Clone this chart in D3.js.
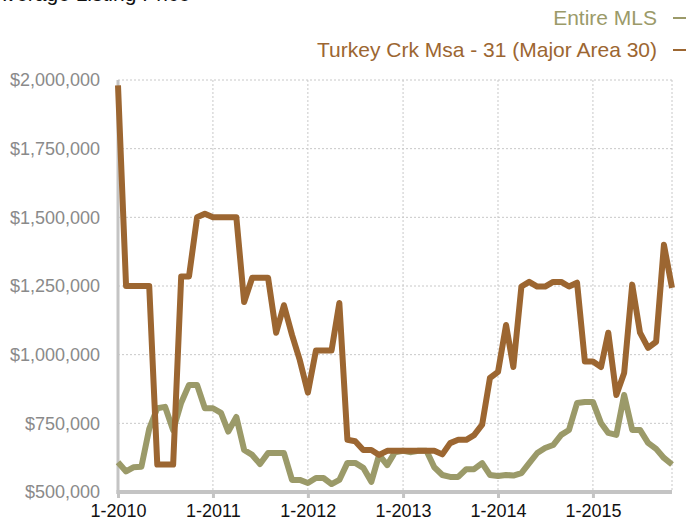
<!DOCTYPE html>
<html>
<head>
<meta charset="utf-8">
<script src="https://cdn.jsdelivr.net/npm/d3@7"></script>
<style>
    body { margin: 0; background: #fff; }
    svg { display: block; font-family: "Liberation Sans", Arial, sans-serif; }
</style>
</head>
<body>
<svg id="chart" width="689" height="525"></svg>
<script>
// monthly values, Jan 2010 .. Nov 2015
const startMonth = new Date(2010, 0, 1);
const seriesNames = ["Entire MLS", "Turkey Crk Msa - 31 (Major Area 30)"];
const seriesColors = ["#9b9a69", "#9c6631"];

const entireMls = [
    608000, 575000, 590000, 592000, 730000, 805000, 810000, 725000, 825000, 890000,
    890000, 805000, 805000, 788000, 720000, 773000, 653000, 635000, 602000, 642000,
    642000, 642000, 544000, 544000, 533000, 551000, 551000, 529000, 544000, 606000,
    606000, 588000, 537000, 635000, 598000, 645000, 650000, 645000, 650000, 650000,
    590000, 562000, 555000, 555000, 583000, 583000, 605000, 562000, 558000, 562000,
    560000, 569000, 605000, 642000, 660000, 671000, 708000, 726000, 824000, 828000,
    828000, 751000, 715000, 708000, 853000, 726000, 726000, 679000, 657000, 624000,
    600000
];

const turkeyCrk = [
    1980000, 1250000, 1250000, 1250000, 1250000, 600000, 600000, 600000, 1285000, 1285000,
    1500000, 1513000, 1500000, 1500000, 1500000, 1500000, 1192000, 1280000, 1280000, 1280000,
    1080000, 1180000, 1072000, 980000, 862000, 1015000, 1015000, 1015000, 1188000, 690000,
    685000, 653000, 653000, 635000, 650000, 650000, 650000, 650000, 650000, 650000,
    650000, 637000, 678000, 690000, 690000, 707000, 745000, 915000, 937000, 1108000,
    955000, 1248000, 1265000, 1248000, 1248000, 1265000, 1265000, 1248000, 1262000, 975000,
    975000, 955000, 1080000, 853000, 933000, 1255000, 1080000, 1025000, 1047000, 1400000,
    1243000
];

const yTicks = [500000, 750000, 1000000, 1250000, 1500000, 1750000, 2000000];

const svg = d3.select("#chart");
const margin = {top: 80, right: 17, bottom: 33, left: 118};
const width = 689 - margin.left - margin.right;
const height = 525 - margin.top - margin.bottom;

const months = d3.timeMonth.range(startMonth, d3.timeMonth.offset(startMonth, entireMls.length));
const xTicks = months.filter(d => d.getMonth() === 0);

const x = d3.scaleTime()
    .domain([months[0], months[months.length - 1]])
    .range([margin.left, margin.left + width]);

const y = d3.scaleLinear()
    .domain([500000, 2000000])
    .range([margin.top + height, margin.top]);

// title, mostly cut off at the top edge like in the original
svg.append("text")
    .attr("x", -8)
    .attr("y", 1)
    .style("font-size", "21px")
    .style("fill", "#111")
    .text("Average Listing Price");

// grid
const grid = svg.append("g");
grid.selectAll(".hgrid").data(yTicks).enter()
    .append("line")
    .attr("x1", margin.left).attr("x2", margin.left + width)
    .attr("y1", d => y(d)).attr("y2", d => y(d))
    .style("stroke", "#c8c8c8")
    .style("stroke-width", 1)
    .style("stroke-dasharray", "2,2");
grid.selectAll(".vgrid").data(xTicks.slice(1).concat([months[months.length - 1]])).enter()
    .append("line")
    .attr("x1", d => x(d)).attr("x2", d => x(d))
    .attr("y1", margin.top).attr("y2", margin.top + height)
    .style("stroke", "#c8c8c8")
    .style("stroke-width", 1)
    .style("stroke-dasharray", "2,2");

// axes
const yAxis = svg.append("g")
    .attr("transform", "translate(" + margin.left + ",0)")
    .call(d3.axisLeft(y).tickValues(yTicks).tickFormat(d3.format("$,")).tickSize(0).tickPadding(18));
yAxis.select(".domain").remove();
yAxis.selectAll("text")
    .style("font-size", "18px")
    .style("fill", "#8a8a8a")
    .style("font-family", "Liberation Sans, Arial, sans-serif");

const xAxis = svg.append("g")
    .attr("transform", "translate(0," + (margin.top + height) + ")")
    .call(d3.axisBottom(x).tickValues(xTicks).tickFormat(d3.timeFormat("%-m-%Y")).tickSize(6).tickPadding(6));
xAxis.select(".domain").remove();
xAxis.selectAll("line").style("stroke", "#c4c4c4").style("stroke-width", 3);
xAxis.selectAll("text")
    .style("font-size", "18px")
    .style("fill", "#111")
    .style("font-family", "Liberation Sans, Arial, sans-serif");

svg.append("line")
    .attr("x1", margin.left).attr("x2", margin.left)
    .attr("y1", margin.top).attr("y2", margin.top + height + 2)
    .style("stroke", "#c4c4c4").style("stroke-width", 3);
svg.append("line")
    .attr("x1", margin.left - 1.5).attr("x2", margin.left + width)
    .attr("y1", margin.top + height).attr("y2", margin.top + height)
    .style("stroke", "#c4c4c4").style("stroke-width", 4);

// lines
const line = d3.line()
    .x((d, i) => x(months[i]))
    .y(d => y(d));

[entireMls, turkeyCrk].forEach((values, k) => {
    svg.append("path")
        .datum(values)
        .attr("d", line)
        .style("fill", "none")
        .style("stroke", seriesColors[k])
        .style("stroke-width", 6)
        .style("stroke-linejoin", "round");
});

// legend, right aligned
const legend = svg.append("g");
seriesNames.forEach((name, k) => {
    const ly = 25 + k * 32;
    legend.append("text")
        .attr("x", 657)
        .attr("y", ly)
        .attr("text-anchor", "end")
        .style("font-size", "21px")
        .style("fill", seriesColors[k])
        .text(name);
    legend.append("line")
        .attr("x1", 673).attr("x2", 686)
        .attr("y1", ly - 7).attr("y2", ly - 7)
        .style("stroke", seriesColors[k])
        .style("stroke-width", 2);
});
</script>
</body>
</html>
